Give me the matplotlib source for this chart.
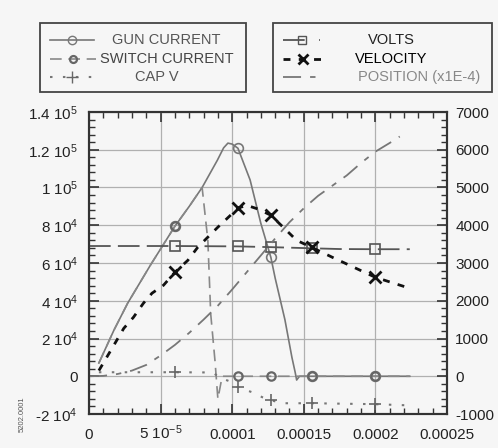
import numpy as np
import matplotlib
matplotlib.use('Agg')
import matplotlib.pyplot as plt
from matplotlib.lines import Line2D
from matplotlib.patches import Rectangle
from matplotlib.ticker import MultipleLocator, FixedLocator, FixedFormatter

plt.rcParams['font.family'] = ['Liberation Sans', 'DejaVu Sans']
plt.rcParams['mathtext.fontset'] = 'custom'
plt.rcParams['mathtext.rm'] = 'Liberation Sans'
plt.rcParams['mathtext.default'] = 'regular'
plt.rcParams['axes.unicode_minus'] = False

# --- data (time in s) ---
MARK_T = [6.0e-5, 1.04e-4, 1.27e-4, 1.555e-4, 2.0e-4]

gun_t = [6.9e-6, 1.74e-5, 2.7e-5, 4.3e-5, 6.0e-5, 7.0e-5, 7.9e-5, 8.96e-5, 9.4e-5, 9.7e-5, 1.0e-4,
         1.04e-4, 1.125e-4, 1.2e-4, 1.27e-4, 1.3e-4, 1.368e-4, 1.417e-4, 1.44e-4, 1.45e-4,
         1.47e-4, 1.555e-4, 2.0e-4, 2.24e-4]
gun_i = [7000, 24400, 38700, 59000, 79500, 90000, 100000, 114400, 121000, 123500, 123000,
         120800, 104000, 81000, 63000, 52000, 30000, 10000, 2000, -2000,
         0, 0, 0, 0]

sw_t = [6.9e-6, 1.74e-5, 2.7e-5, 4.3e-5, 6.0e-5, 7.0e-5, 7.9e-5, 8.3e-5, 8.5e-5, 8.8e-5,
        9.0e-5, 9.3e-5, 1.04e-4, 1.27e-4, 1.555e-4, 2.0e-4, 2.24e-4]
sw_i = [7000, 24400, 38700, 59000, 79500, 90000, 100000, 72000, 33000, 8000,
        -12000, 0, 0, 0, 0, 0, 0]

cap_t = [6.9e-6, 6.0e-5, 8.6e-5, 9.3e-5, 1.0e-4, 1.04e-4, 1.14e-4, 1.21e-4, 1.27e-4,
         1.35e-4, 1.555e-4, 2.0e-4, 2.22e-4]
cap_v = [106, 106, 100, -60, -160, -290, -425, -555, -635, -715, -715, -740, -770]

volt_t = [0, 6.0e-5, 1.04e-4, 1.27e-4, 1.555e-4, 1.75e-4, 2.0e-4, 2.24e-4]
volt_v = [3450, 3450, 3440, 3420, 3390, 3370, 3365, 3365]

vel_t = [6.9e-6, 1.53e-5, 2.43e-5, 3.1e-5, 3.8e-5, 4.4e-5, 5.2e-5, 6.0e-5, 6.9e-5, 7.6e-5,
         9.0e-5, 1.04e-4, 1.1e-4, 1.18e-4, 1.27e-4, 1.45e-4, 1.555e-4, 1.7e-4, 2.0e-4, 2.215e-4]
vel_v = [150, 690, 1270, 1560, 1935, 2200, 2410, 2755, 3070, 3420,
         3950, 4450, 4530, 4430, 4265, 3600, 3415, 3150, 2620, 2360]

pos_t = [0, 1.0e-5, 2.0e-5, 3.0e-5, 4.0e-5, 5.0e-5, 6.0e-5, 7.0e-5, 8.0e-5, 9.0e-5, 1.0e-4,
         1.1e-4, 1.2e-4, 1.3e-4, 1.4e-4, 1.5e-4, 1.6e-4, 1.7e-4, 1.8e-4, 1.9e-4, 2.0e-4,
         2.1e-4, 2.17e-4]
pos_v = [0, 10, 60, 150, 300, 550, 830, 1150, 1500, 1870, 2300,
         2750, 3200, 3650, 4080, 4450, 4780, 5050, 5320, 5650, 5950,
         6180, 6350]

left_ticks = [-2e4, 0, 2e4, 4e4, 6e4, 8e4, 1e5, 1.2e5, 1.4e5]
left_labels = ['-2 10$^4$', '0', '2 10$^4$', '4 10$^4$', '6 10$^4$', '8 10$^4$',
               '1 10$^5$', '1.2 10$^5$', '1.4 10$^5$']
x_ticks = [0, 5e-5, 1e-4, 1.5e-4, 2e-4, 2.5e-4]
x_labels = ['0', '5 10$^{-5}$', '0.0001', '0.00015', '0.0002', '0.00025']


def marks(t):
    return [t.index(m) for m in MARK_T if m in t]


BG = '#f6f6f6'
fig = plt.figure(figsize=(4.98, 4.48), dpi=100, facecolor=BG)
ax = fig.add_axes([89 / 498, 1 - 414 / 448, 358 / 498, 302 / 448], facecolor=BG)
ax2 = ax.twinx()

ax.plot(gun_t, gun_i, color='#777777', lw=1.2, marker='o', markevery=marks(gun_t),
        ms=7, mfc='none', mec='#777777', mew=1.2, zorder=3)
ax.plot(sw_t, sw_i, color='#888888', lw=1.2, dashes=(7, 4), marker='o', markevery=marks(sw_t),
        ms=6, mfc='none', mec='#666666', mew=1.6, zorder=3)

ax2.plot(cap_t, cap_v, color='#777777', lw=1.5, dashes=(1.2, 5), marker='+', markevery=marks(cap_t),
         ms=9, mec='#666666', mew=1.2)
ax2.plot(volt_t, volt_v, color='#555555', lw=1.3, dashes=(12, 4), marker='s', markevery=marks(volt_t),
         ms=7, mfc='none', mec='#555555', mew=1.2)
ax2.plot(pos_t, pos_v, color='#777777', lw=1.3, dashes=(10, 5, 3, 5))
ax2.plot(vel_t, vel_v, color='#111111', lw=2.0, dashes=(2.5, 3), marker='x', markevery=marks(vel_t),
         ms=8, mec='#111111', mew=2)

ax.set_xlim(0, 2.5e-4)
ax.set_ylim(-2e4, 1.4e5)
ax2.set_ylim(-1000, 7000)

ax.xaxis.set_major_locator(FixedLocator(x_ticks))
ax.xaxis.set_major_formatter(FixedFormatter(x_labels))
ax.xaxis.set_minor_locator(MultipleLocator(1e-5))
ax.yaxis.set_major_locator(FixedLocator(left_ticks))
ax.yaxis.set_major_formatter(FixedFormatter(left_labels))
ax.yaxis.set_minor_locator(MultipleLocator(4000))
ax2.yaxis.set_major_locator(MultipleLocator(1000))
ax2.yaxis.set_minor_locator(MultipleLocator(200))

ax.grid(True, which='major', color='#b0b0b0', lw=0.9)
ax.set_axisbelow(True)
ax.tick_params(axis='both', which='both', direction='in', top=True, colors='#333333',
               labelsize=11, labelcolor='#222222')
ax.tick_params(which='major', length=7, width=1.2)
ax.tick_params(which='minor', length=4, width=1.0)
ax.tick_params(axis='x', pad=18)
ax.tick_params(axis='y', pad=8)
for lbl in ax.get_xticklabels():
    lbl.set_verticalalignment('baseline')
ax2.tick_params(axis='y', which='both', direction='in', colors='#333333', labelsize=11,
                labelcolor='#222222', pad=6)
ax2.tick_params(which='major', length=7, width=1.2)
ax2.tick_params(which='minor', length=4, width=1.0)
for a in (ax, ax2):
    for s in a.spines.values():
        s.set_color('#333333')
        s.set_linewidth(1.5)

# --- legend boxes drawn in pixel coords ---
W, H = 498.0, 448.0


def fx(px):
    return px / W


def fy(py):
    return 1 - py / H


for x0, x1 in [(40, 246), (273, 492)]:
    fig.add_artist(Rectangle((fx(x0), fy(92)), fx(x1) - fx(x0), fy(23) - fy(92),
                             transform=fig.transFigure, fill=False, ec='#444444', lw=1.3))

rows = [40, 59, 77]


def handle(x0, x1, y, **kw):
    xm = (x0 + x1) / 2
    fig.add_artist(Line2D([fx(x0), fx(xm), fx(x1)], [fy(y)] * 3, transform=fig.transFigure,
                          markevery=[1], **kw))


handle(50, 94, rows[0], color='#777777', lw=1.2, marker='o', ms=6, mfc='none', mec='#777777')
handle(50, 96, rows[1], color='#888888', lw=1.2, dashes=(7, 4), marker='o', ms=5,
       mfc='none', mec='#666666', mew=1.6)
handle(50, 94, rows[2], color='#777777', lw=1.5, dashes=(1.2, 5), marker='+', ms=8, mec='#666666')
handle(283, 320, rows[0], color='#555555', lw=1.3, dashes=(12, 8), marker='s', ms=6,
       mfc='none', mec='#555555')
handle(283, 322, rows[1], color='#111111', lw=2.0, dashes=(2.5, 3), marker='x', ms=7, mew=2)
handle(283, 322, rows[2], color='#777777', lw=1.3, dashes=(10, 5, 3, 5))

leg_text = [(112, rows[0], 'GUN CURRENT', '#555555'),
            (100, rows[1], 'SWITCH CURRENT', '#444444'),
            (135, rows[2], 'CAP V', '#555555'),
            (368, rows[0], 'VOLTS', '#222222'),
            (355, rows[1], 'VELOCITY', '#000000'),
            (358, rows[2], 'POSITION (x1E-4)', '#888888')]
for px, py, s, c in leg_text:
    fig.text(fx(px), fy(py), s, color=c, fontsize=10.5, ha='left', va='center')

fig.text(fx(22), fy(414), '5202.0001', rotation=90, fontsize=5.5, color='#555555',
         ha='center', va='center')

fig.savefig('out.png', dpi=100, facecolor=BG)
